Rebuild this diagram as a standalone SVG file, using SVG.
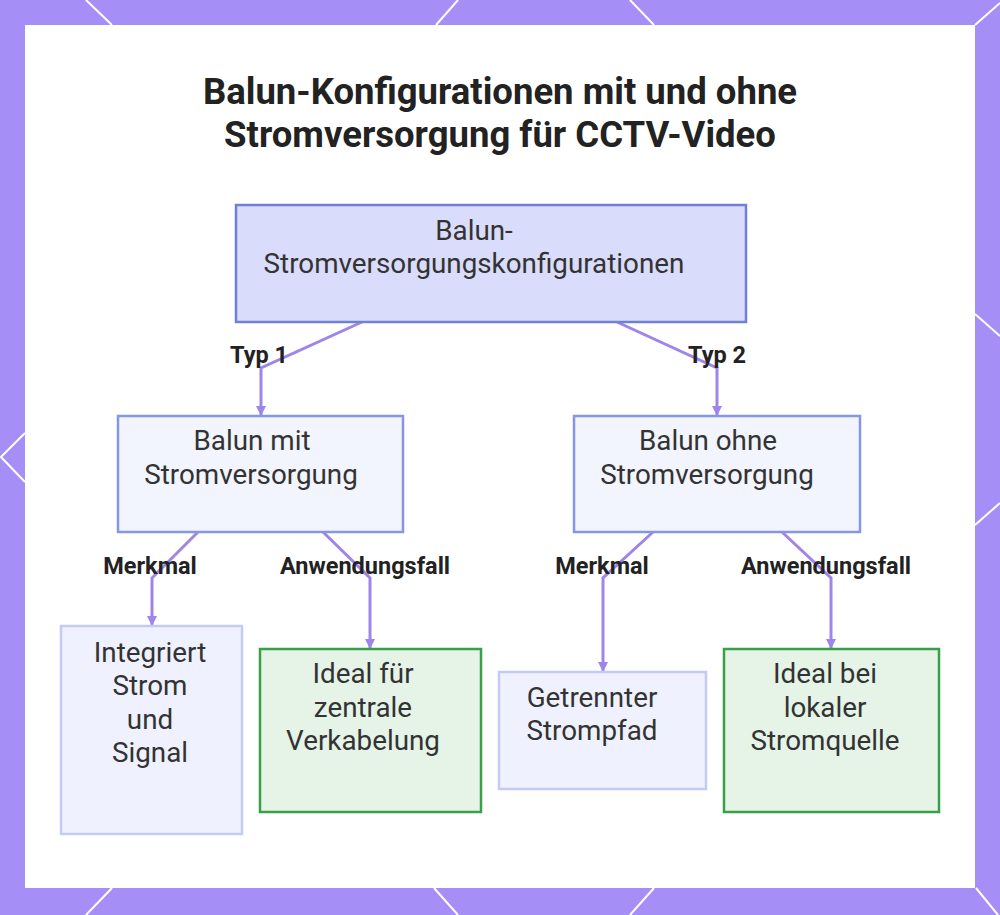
<svg xmlns="http://www.w3.org/2000/svg" width="1000" height="915" viewBox="0 0 1000 915">
<defs>
<style>
.bd{stroke:#ffffff;stroke-width:2;fill:none}
.t{font-family:Roboto,"Liberation Sans",sans-serif;fill:#333333;font-size:27.8px;text-anchor:middle}
.lb{font-family:Roboto,"Liberation Sans",sans-serif;fill:#222222;font-size:23.5px;font-weight:bold;text-anchor:middle}
.ttl{font-family:Roboto,"Liberation Sans",sans-serif;fill:#222222;font-size:36.5px;font-weight:bold;text-anchor:middle}
.c{stroke:#9f85ea;stroke-width:3;fill:none;marker-end:url(#ah)}
.main{fill:#d9dcfa;stroke:#6f80d6;stroke-width:2.5}
.mid{fill:#f2f4fe;stroke:#8796e2;stroke-width:2.5}
.leafb{fill:#eff2fe;stroke:#c3cbf4;stroke-width:2.5}
.leafg{fill:#e5f4e7;stroke:#38a048;stroke-width:2.5}
</style>
<marker id="ah" viewBox="0 0 10 10" refX="9" refY="5" markerWidth="3.5" markerHeight="3.5" orient="auto">
<path d="M0,0 L10,5 L0,10 z" fill="#9f85ea"/>
</marker>
</defs>
<rect x="0" y="0" width="1000" height="915" fill="#a68ef7"/>
<g id="border-lines">
<line class="bd" x1="86" y1="0" x2="112" y2="25"/>
<line class="bd" x1="458" y1="0" x2="436" y2="25"/>
<line class="bd" x1="630" y1="0" x2="654" y2="25"/>
<line class="bd" x1="1000" y1="3" x2="975" y2="25"/>
<line class="bd" x1="112" y1="888" x2="86" y2="915"/>
<line class="bd" x1="434" y1="888" x2="458" y2="915"/>
<line class="bd" x1="654" y1="888" x2="630" y2="915"/>
<line class="bd" x1="976" y1="888" x2="998" y2="915"/>
<line class="bd" x1="975" y1="314" x2="1000" y2="336"/>
<line class="bd" x1="1000" y1="503" x2="975" y2="525"/>
<polyline class="bd" points="25,433 1,457 25,482"/>
</g>
<rect x="25" y="25" width="950" height="863" fill="#ffffff"/>
<g id="title">
<text class="ttl" x="500" y="104">Balun-Konfigurationen mit und ohne</text>
<text class="ttl" x="500" y="147">Stromversorgung für CCTV-Video</text>
</g>
<g id="connectors">
<polyline class="c" points="362,322 261,368 261,415"/>
<polyline class="c" points="617,322 717,368 717,415"/>
<polyline class="c" points="198,532 152,578 152,625"/>
<polyline class="c" points="323,532 370,578 370,648"/>
<polyline class="c" points="653,532 603,578 603,671"/>
<polyline class="c" points="782,532 831,578 831,648"/>
<text class="lb" x="259" y="363">Typ 1</text>
<text class="lb" x="717" y="363">Typ 2</text>
<text class="lb" x="150" y="574">Merkmal</text>
<text class="lb" x="365" y="574">Anwendungsfall</text>
<text class="lb" x="602" y="574">Merkmal</text>
<text class="lb" x="826" y="574">Anwendungsfall</text>
</g>
<g id="root">
<rect class="main" x="236" y="205" width="510" height="117"/>
<text class="t" x="474" y="240">Balun-</text>
<text class="t" x="474" y="273">Stromversorgungskonfigurationen</text>
</g>
<g id="balun-mit">
<rect class="mid" x="118" y="416" width="285" height="116"/>
<text class="t" x="252" y="450">Balun mit</text>
<text class="t" x="251" y="484">Stromversorgung</text>
</g>
<g id="balun-ohne">
<rect class="mid" x="574" y="416" width="286" height="116"/>
<text class="t" x="708" y="450">Balun ohne</text>
<text class="t" x="707" y="484">Stromversorgung</text>
</g>
<g id="integriert">
<rect class="leafb" x="61" y="626" width="181" height="208"/>
<text class="t" x="150" y="662">Integriert</text>
<text class="t" x="150" y="695">Strom</text>
<text class="t" x="150" y="729">und</text>
<text class="t" x="150" y="762">Signal</text>
</g>
<g id="ideal-zentral">
<rect class="leafg" x="260" y="649" width="221" height="163"/>
<text class="t" x="363" y="683">Ideal für</text>
<text class="t" x="363" y="717">zentrale</text>
<text class="t" x="363" y="750">Verkabelung</text>
</g>
<g id="getrennt">
<rect class="leafb" x="499" y="672" width="207" height="117"/>
<text class="t" x="592" y="707">Getrennter</text>
<text class="t" x="592" y="740">Strompfad</text>
</g>
<g id="ideal-lokal">
<rect class="leafg" x="724" y="649" width="215" height="163"/>
<text class="t" x="825" y="683">Ideal bei</text>
<text class="t" x="825" y="717">lokaler</text>
<text class="t" x="825" y="750">Stromquelle</text>
</g>
</svg>
